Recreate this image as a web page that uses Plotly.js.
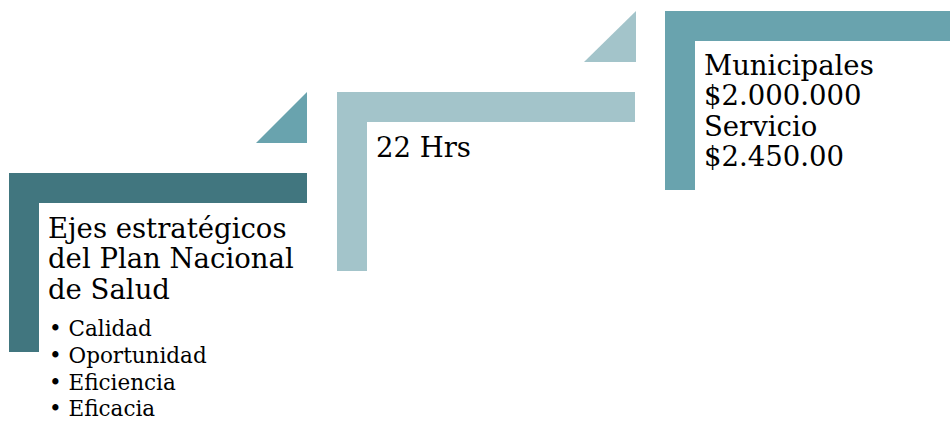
<!DOCTYPE html>
<html>
<head>
<meta charset="utf-8">
<script src="https://cdn.plot.ly/plotly-3.0.1.min.js"></script>
<style>html,body{margin:0;padding:0;background:#fff;}#chart{width:950px;height:423px;}</style>
</head>
<body>
<div id="chart"></div>
<script>
// Content
const step1Lines = ["Ejes estratégicos", "del Plan Nacional", "de Salud"];
const step1Bullets = ["Calidad", "Oportunidad", "Eficiencia", "Eficacia"];
const step2Lines = ["22 Hrs"];
const step3Lines = ["Municipales", "$2.000.000", "Servicio", "$2.450.00"];
const stepColors = ["#41767F", "#A3C4CA", "#69A3AE"];
const arrowColors = ["#69A3AE", "#A3C4CA"];

const FONT = "DejaVu Serif";
const shapes = [];
const annotations = [];

function lShape(x0, y0, x1, y1, t, color) {
  const p = `M${x0},${y0} L${x1},${y0} L${x1},${y0 + t} L${x0 + t},${y0 + t} L${x0 + t},${y1} L${x0},${y1} Z`;
  shapes.push({type: "path", path: p, xref: "x", yref: "y", fillcolor: color, line: {width: 0}, layer: "below"});
}
function tri(x0, y0, x1, y1, color) {
  const p = `M${x0},${y1} L${x1},${y0} L${x1},${y1} Z`;
  shapes.push({type: "path", path: p, xref: "x", yref: "y", fillcolor: color, line: {width: 0}, layer: "below"});
}
function lines(arr, x, baseline0, spacing, size) {
  arr.forEach((t, i) => {
    annotations.push({
      text: t, x: x, y: baseline0 + i * spacing - 0.34 * size, xref: "x", yref: "y",
      xanchor: "left", yanchor: "middle", showarrow: false,
      font: {family: FONT, size: size, color: "#000"}
    });
  });
}

// Step 1
lShape(9, 173, 307, 352, 30, stepColors[0]);
tri(256, 92, 307, 143, arrowColors[0]);
// Step 2
lShape(337, 92, 635, 271, 30, stepColors[1]);
tri(584, 11, 636, 62, arrowColors[1]);
// Step 3
lShape(665, 11, 952, 190, 30, stepColors[2]);

lines(step1Lines, 46, 237, 30.5, 27.5);
lines(step1Bullets.map(b => "• " + b), 47, 336, 26.7, 21.5);
lines(step2Lines, 374, 156, 30, 27.5);
lines(step3Lines, 702, 74, 30.5, 27.5);

const layout = {
  width: 950, height: 423,
  margin: {l: 0, r: 0, t: 0, b: 0},
  paper_bgcolor: "#fff", plot_bgcolor: "#fff",
  xaxis: {range: [0, 950], visible: false, fixedrange: true},
  yaxis: {range: [423, 0], visible: false, fixedrange: true},
  shapes: shapes, annotations: annotations, showlegend: false
};
Plotly.newPlot("chart", [], layout, {staticPlot: true, displayModeBar: false});
</script>
</body>
</html>
